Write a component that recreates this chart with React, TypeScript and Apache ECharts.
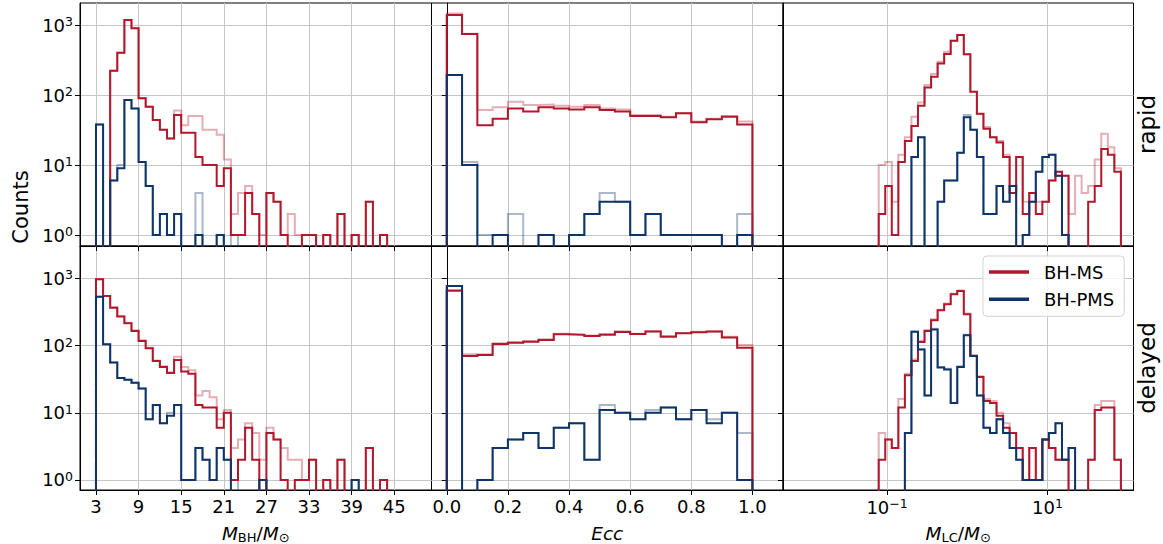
import React, { useEffect, useRef } from 'react';
import * as echarts from 'echarts';

const RED = '#b2182b';
const BLUE = '#0e3468';
const GRID_C = '#c6c6c6';
const FONT = 'DejaVu Sans';
const FLOOR = 1e-3;

// ---- bin edges ----
const massEdges = Array.from({ length: 46 }, (_, i) => 3 + i); // 3..48, width 1
const eccEdges = Array.from({ length: 21 }, (_, i) => i * 0.05); // 0..1, width 0.05
const lcEdges = Array.from({ length: 38 }, (_, i) => Math.pow(10, -1.104 + (i * 3.019) / 37));

// ---- tick values ----
const massTicks = [3, 9, 15, 21, 27, 33, 39, 45];
const eccTicks = [0, 0.2, 0.4, 0.6, 0.8, 1.0];
const lcTicks = [0.1, 10];
const countTicks = [1, 10, 100, 1000];

// ---- rapid: M_BH ----
const rapidMsMass = [0, 0, 223, 403, 1178, 896, 90, 68, 44, 32, 24, 52, 29, 29, 13, 10, 10, 5, 9, 1, 1, 4, 2, 0, 4, 3, 1, 0, 0, 1, 1, 0, 1, 0, 2, 0, 1, 0, 3, 0, 1, 0, 0, 0, 0];
const rapidMsMassAll = [0, 0, 223, 403, 1178, 896, 90, 68, 44, 32, 24, 60, 37, 50, 50, 32, 32, 27, 12, 2, 4, 5, 2, 1, 4, 3, 1, 2, 1, 1, 1, 0, 1, 0, 2, 0, 1, 0, 3, 0, 1, 0, 0, 0, 0];
const rapidPmsMass = [38, 0, 6, 9, 85, 64, 11, 5, 1, 2, 1, 2, 0, 0, 1, 0, 0, 1, 0, 0, 0, 0, 0, 0, 0, 0, 0, 0, 0, 0, 0, 0, 0, 0, 0, 0, 0, 0, 0, 0, 0, 0, 0, 0, 0];
const rapidPmsMassAll = [38, 0, 6, 10, 85, 64, 11, 5, 1, 2, 1, 2, 0, 0, 4, 0, 0, 1, 0, 1, 0, 0, 0, 0, 0, 0, 0, 0, 0, 0, 0, 0, 0, 0, 0, 0, 0, 0, 0, 0, 0, 0, 0, 0, 0];

// ---- delayed: M_BH ----
const delayedMsMass = [970, 545, 366, 269, 214, 165, 117, 91, 59, 48, 39, 61, 41, 38, 13, 12, 12, 6, 10, 1, 2, 6, 2, 0, 5, 4, 1, 0, 1, 1, 2, 0, 1, 0, 2, 0, 0, 0, 3, 0, 1, 0, 0, 0, 0];
const delayedMsMassAll = [970, 545, 370, 272, 218, 168, 120, 93, 60, 49, 40, 68, 48, 43, 18, 21, 17, 8, 11, 3, 4, 7, 5, 2, 6, 4, 3, 2, 2, 1, 2, 0, 1, 0, 2, 0, 0, 0, 3, 0, 1, 0, 0, 0, 0];
const delayedPmsMass = [533, 104, 56, 33, 31, 28, 23, 8, 13, 7, 9, 13, 1, 1, 3, 2, 1, 3, 2, 0, 0, 0, 0, 1, 0, 0, 0, 0, 0, 0, 0, 0, 0, 0, 0, 0, 1, 0, 0, 0, 0, 0, 0, 0, 0];
const delayedPmsMassAll = [533, 104, 56, 33, 31, 28, 23, 8, 13, 7, 10, 13, 1, 1, 3, 2, 1, 3, 2, 1, 0, 0, 0, 1, 0, 0, 0, 0, 0, 0, 0, 0, 0, 0, 0, 0, 1, 0, 0, 0, 0, 0, 0, 0, 0];

// ---- rapid: Ecc ----
const rapidMsEcc = [1390, 744, 37, 46, 64, 58, 67, 64, 62, 67, 61, 58, 50, 50, 48, 55, 41, 45, 49, 38];
const rapidMsEccAll = [1465, 750, 61, 67, 80, 72, 73, 70, 68, 72, 64, 62, 52, 52, 49, 55, 42, 46, 50, 42];
const rapidPmsEcc = [193, 10, 0, 1, 0, 0, 1, 0, 1, 2, 3, 3, 1, 2, 1, 1, 1, 1, 0, 1];
const rapidPmsEccAll = [193, 11, 1, 1, 2, 0, 1, 0, 1, 2, 4, 3, 1, 2, 1, 1, 1, 1, 0, 2];

// ---- delayed: Ecc ----
const delayedMsEcc = [655, 70, 72, 105, 110, 114, 121, 147, 144, 139, 145, 159, 148, 161, 135, 152, 157, 161, 132, 93];
const delayedMsEccAll = [670, 74, 74, 108, 112, 117, 124, 150, 146, 141, 148, 163, 150, 163, 138, 154, 160, 163, 135, 102];
const delayedPmsEcc = [769, 0, 1, 3, 4, 5, 3, 6, 7, 2, 11, 10, 8, 10, 12, 8, 11, 7, 10, 1];
const delayedPmsEccAll = [769, 0, 1, 3, 4, 5, 3, 6, 7, 2, 13, 10, 8, 11, 12, 8, 11, 8, 10, 5];

// ---- rapid: M_LC ----
const rapidMsLc = [2, 5, 1, 11, 22, 36, 70, 128, 183, 283, 385, 597, 719, 381, 111, 54, 33, 25, 21, 13, 4, 13, 2, 4, 2, 3, 6, 8, 7, 0, 0, 0, 3, 5, 17, 14, 8];
const rapidMsLcAll = [10, 11, 3, 14, 25, 49, 78, 139, 199, 298, 415, 597, 719, 381, 111, 53, 35, 25, 22, 14, 5, 13, 3, 4, 3, 3, 6, 8, 7, 2, 7, 4, 5, 12, 28, 18, 9];
const rapidPmsLc = [0, 0, 0, 0, 0, 13, 25, 0, 0, 3, 6, 6, 15, 48, 32, 13, 2, 2, 5, 3, 5, 0, 1, 3, 8, 13, 14, 7, 1, 0, 0, 0, 0, 0, 0, 0, 0];
const rapidPmsLcAll = [0, 0, 0, 0, 0, 13, 25, 0, 0, 3, 6, 6, 15, 52, 32, 13, 2, 2, 5, 3, 5, 0, 1, 3, 8, 13, 14, 7, 1, 0, 0, 0, 0, 0, 0, 0, 0];

// ---- delayed: M_LC ----
const delayedMsLc = [2, 4, 3, 12, 36, 59, 113, 165, 238, 335, 411, 578, 648, 292, 70, 34, 15, 14, 9, 6, 5, 3, 1, 3, 1, 4, 3, 2, 2, 0, 0, 0, 2, 11, 12, 12, 2];
const delayedMsLcAll = [5, 4, 3, 16, 38, 62, 118, 170, 245, 340, 420, 590, 660, 300, 72, 35, 16, 15, 10, 7, 5, 3, 1, 3, 1, 4, 3, 2, 2, 0, 0, 0, 2, 13, 15, 15, 2];
const delayedPmsLc = [0, 0, 0, 0, 5, 160, 87, 18, 173, 47, 44, 14, 48, 142, 70, 18, 6, 5, 8, 5, 3, 2, 1, 1, 1, 4, 5, 7, 2, 3, 0, 0, 0, 0, 0, 0, 0];
const delayedPmsLcAll = [0, 0, 0, 0, 5, 162, 88, 18, 178, 48, 45, 14, 49, 145, 70, 18, 6, 5, 8, 5, 3, 2, 1, 1, 1, 4, 5, 7, 2, 3, 0, 0, 0, 0, 0, 0, 0];

const rowLabels = ['rapid', 'delayed'];

// layout (pixels)
const COLS = [
  { left: 80, width: 351.5 },
  { left: 431.5, width: 351.5 },
  { left: 783, width: 350.5 },
];
const ROWS = [
  { top: 3, height: 243, yMin: 0.697, yMax: 2063 },
  { top: 246, height: 244, yMin: 0.71, yMax: 3020 },
];

const panels = [
  { edges: massEdges, ms: rapidMsMass, msAll: rapidMsMassAll, pms: rapidPmsMass, pmsAll: rapidPmsMassAll },
  { edges: eccEdges, ms: rapidMsEcc, msAll: rapidMsEccAll, pms: rapidPmsEcc, pmsAll: rapidPmsEccAll },
  { edges: lcEdges, ms: rapidMsLc, msAll: rapidMsLcAll, pms: rapidPmsLc, pmsAll: rapidPmsLcAll },
  { edges: massEdges, ms: delayedMsMass, msAll: delayedMsMassAll, pms: delayedPmsMass, pmsAll: delayedPmsMassAll },
  { edges: eccEdges, ms: delayedMsEcc, msAll: delayedMsEccAll, pms: delayedPmsEcc, pmsAll: delayedPmsEccAll },
  { edges: lcEdges, ms: delayedMsLc, msAll: delayedMsLcAll, pms: delayedPmsLc, pmsAll: delayedPmsLcAll },
];

function stepPoints(edges: number[], counts: number[]) {
  const pts: number[][] = [[edges[0], FLOOR]];
  counts.forEach((c, i) => {
    const v = c > 0 ? c : FLOOR;
    pts.push([edges[i], v], [edges[i + 1], v]);
  });
  pts.push([edges[counts.length], FLOOR]);
  return pts;
}

const supRich = {
  b: { fontSize: 18, fontFamily: FONT, color: '#000', lineHeight: 20 },
  s: { fontSize: 12.5, fontFamily: FONT, color: '#000', lineHeight: 8, verticalAlign: 'top' },
};
const powLabel = (v: number) => {
  const e = Math.round(Math.log10(v));
  return `{b|10}{s|${e < 0 ? '\u2212' + -e : e}}`;
};
const nameRich = {
  i: { fontSize: 18.5, fontStyle: 'italic', fontFamily: FONT, color: '#000', lineHeight: 22 },
  n: { fontSize: 18.5, fontFamily: FONT, color: '#000', lineHeight: 22 },
  s: { fontSize: 13, fontFamily: FONT, color: '#000', lineHeight: 16, verticalAlign: 'bottom' },
};
const xNames = [
  '{i|M}{s|BH}{n|/}{i|M}{s|\u2299}',
  '{i|Ecc}',
  '{i|M}{s|LC}{n|/}{i|M}{s|\u2299}',
];

function buildOption() {
  const grid: any[] = [];
  const xAxis: any[] = [];
  const yAxis: any[] = [];
  const series: any[] = [];
  for (let r = 0; r < 2; r++) {
    for (let c = 0; c < 3; c++) {
      const g = r * 3 + c;
      grid.push({
        left: COLS[c].left,
        width: COLS[c].width,
        top: ROWS[r].top,
        height: ROWS[r].height,
        show: true,
        borderColor: '#000',
        borderWidth: 1,
        backgroundColor: 'transparent',
        containLabel: false,
        outerBoundsMode: 'none',
      });
      const isLog = c === 2;
      const ticks = c === 0 ? massTicks : c === 1 ? eccTicks : lcTicks;
      const fmt =
        c === 0 ? (v: number) => String(Math.round(v)) : c === 1 ? (v: number) => v.toFixed(1) : powLabel;
      xAxis.push({
        gridIndex: g,
        type: isLog ? 'log' : 'value',
        logBase: 10,
        min: c === 0 ? 0.75 : c === 1 ? -0.05 : Math.pow(10, -2.297),
        max: c === 0 ? 50.25 : c === 1 ? 1.1 : Math.pow(10, 2.072),
        axisLine: { show: true, onZero: false, lineStyle: { color: '#000', width: 1 } },
        axisTick: { show: true, length: 5, lineStyle: { color: '#000', width: 1 }, customValues: ticks },
        axisLabel: {
          show: r === 1,
          customValues: ticks,
          formatter: fmt,
          margin: 7,
          fontSize: 18,
          fontFamily: FONT,
          color: '#000',
          rich: isLog ? supRich : undefined,
        },
        splitLine: { show: true, lineStyle: { color: GRID_C, width: 1 } },
        name: r === 1 ? xNames[c] : '',
        nameLocation: 'middle',
        nameGap: 32,
        nameTextStyle: { rich: nameRich },
      });
      yAxis.push({
        gridIndex: g,
        type: 'log',
        logBase: 10,
        min: ROWS[r].yMin,
        max: ROWS[r].yMax,
        axisLine: { show: true, lineStyle: { color: '#000', width: 1 } },
        axisTick: { show: true, length: 5, lineStyle: { color: '#000', width: 1 }, customValues: countTicks },
        axisLabel: {
          show: c === 0,
          customValues: countTicks,
          formatter: powLabel,
          margin: 7,
          rich: supRich,
        },
        splitLine: { show: true, lineStyle: { color: GRID_C, width: 1 } },
      });
      const p = panels[g];
      const mk = (name: string, counts: number[], color: string, opacity: number, z: number) => ({
        type: 'line',
        name,
        xAxisIndex: g,
        yAxisIndex: g,
        data: stepPoints(p.edges, counts),
        symbol: 'none',
        showSymbol: false,
        clip: true,
        silent: true,
        z,
        itemStyle: { color },
        lineStyle: { color, width: 2, opacity, join: 'miter' },
      });
      series.push(mk('BH-MS', p.ms, RED, 1, 4));
      series.push(mk('BH-PMS', p.pms, BLUE, 1, 5));
      series.push(mk('BH-MS all', p.msAll, RED, 0.35, 2));
      series.push(mk('BH-PMS all', p.pmsAll, BLUE, 0.35, 3));
    }
  }
  return {
    animation: false,
    backgroundColor: '#fff',
    textStyle: { fontFamily: FONT },
    grid,
    xAxis,
    yAxis,
    series,
    legend: {
      show: true,
      orient: 'vertical',
      left: 983,
      top: 256,
      data: ['BH-MS', 'BH-PMS'],
      icon: 'rect',
      itemWidth: 40,
      itemHeight: 3.5,
      itemGap: 7.3,
      padding: [6, 10, 7, 6],
      borderColor: '#d3d3d3',
      borderWidth: 1,
      borderRadius: 4,
      backgroundColor: 'rgba(255,255,255,0.8)',
      selectedMode: false,
      textStyle: { fontSize: 18, fontFamily: FONT, color: '#000', lineHeight: 20, padding: [0, 0, 0, 10] },
    },
    graphic: [
      {
        type: 'text',
        x: 21,
        y: 207,
        rotation: Math.PI / 2,
        style: { text: 'Counts', fontSize: 21, fontFamily: FONT, fill: '#000', align: 'center', verticalAlign: 'middle', textAlign: 'center', textVerticalAlign: 'middle' },
      },
      ...rowLabels.map((t, r) => ({
        type: 'text',
        x: 1147,
        y: ROWS[r].top + ROWS[r].height / 2,
        rotation: Math.PI / 2,
        style: { text: t, fontSize: 23, fontFamily: FONT, fill: '#000', align: 'center', verticalAlign: 'middle', textAlign: 'center', textVerticalAlign: 'middle' },
      })),
    ],
  };
}

export default function App() {
  const ref = useRef<HTMLDivElement>(null);
  useEffect(() => {
    document.body.style.margin = '0';
    const chart = echarts.init(ref.current as HTMLDivElement, undefined, { renderer: 'svg' });
    chart.setOption(buildOption() as any);
    return () => chart.dispose();
  }, []);
  return <div ref={ref} style={{ width: 1163, height: 544 }} />;
}
